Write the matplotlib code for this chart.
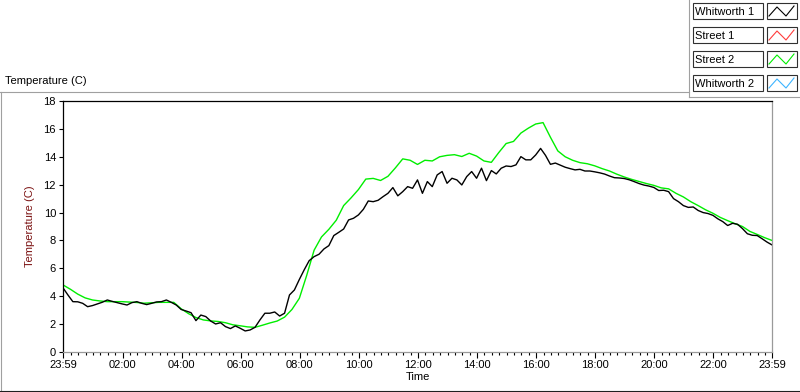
import numpy as np
import matplotlib
matplotlib.use('Agg')
import matplotlib.pyplot as plt
from matplotlib.patches import Rectangle
from matplotlib.ticker import FixedLocator

plt.rcParams['font.family'] = ['Liberation Sans', 'DejaVu Sans']
plt.rcParams['font.size'] = 8

# Whitworth 1 (black), 10 minute steps from 23:59
whitworth1 = [4.6, 4.09, 3.61, 3.6, 3.49, 3.25, 3.33, 3.45, 3.57, 3.73, 3.63, 3.54, 3.45,
              3.37, 3.54, 3.61, 3.49, 3.4, 3.49, 3.59, 3.61, 3.73, 3.56, 3.37, 3.05,
              2.94, 2.82, 2.25, 2.65, 2.54, 2.22, 2.01, 2.1, 1.82, 1.68, 1.87, 1.7,
              1.51, 1.58, 1.77, 2.3, 2.78, 2.78, 2.87, 2.58, 2.78, 4.09, 4.45, 5.2,
              5.9, 6.55, 6.84, 7.01, 7.39, 7.63, 8.35, 8.58, 8.82, 9.47, 9.59, 9.83,
              10.23, 10.83, 10.78, 10.88, 11.14, 11.38, 11.79, 11.2, 11.5, 11.86, 11.74, 12.34,
              11.38, 12.22, 11.86, 12.7, 12.94, 12.1, 12.46, 12.34, 11.98, 12.58, 12.94, 12.46,
              13.18, 12.29, 13.01, 12.77, 13.18, 13.34, 13.3, 13.42, 14.01, 13.78, 13.78, 14.13,
              14.6, 14.1, 13.46, 13.55, 13.4, 13.25, 13.15, 13.06, 13.1, 12.98, 12.98, 12.92,
              12.85, 12.76, 12.62, 12.5, 12.48, 12.44, 12.35, 12.22, 12.08, 11.97, 11.9, 11.8,
              11.58, 11.6, 11.5, 11.0, 10.78, 10.5, 10.37, 10.4, 10.15, 10.0, 9.93, 9.8,
              9.55, 9.35, 9.07, 9.23, 9.16, 8.85, 8.48, 8.37, 8.35, 8.12, 7.88, 7.68]

# Street 2 (green), 15 minute steps from 23:59
street2 = [4.81, 4.5, 4.15, 3.88, 3.73, 3.66, 3.61, 3.61, 3.61, 3.58, 3.55, 3.5, 3.53,
           3.56, 3.56, 3.56, 3.1,
           2.75, 2.47, 2.3, 2.23, 2.19, 2.1, 1.95, 1.88, 1.8, 1.77, 1.92, 2.08, 2.22, 2.5,
           3.05, 3.85,
           5.5, 7.3, 8.25, 8.8, 9.45, 10.5, 11.05, 11.65, 12.4, 12.45, 12.3, 12.6, 13.2,
           13.85, 13.75, 13.45,
           13.75, 13.7, 14.0, 14.1, 14.15, 14.02, 14.25, 14.05, 13.7, 13.6, 14.3, 14.95,
           15.1, 15.7, 16.05, 16.35,
           16.45, 15.4, 14.42, 14.0, 13.75, 13.58, 13.5, 13.35, 13.15, 12.98, 12.75, 12.55,
           12.38, 12.23, 12.08, 11.95,
           11.77, 11.7, 11.38, 11.12, 10.78, 10.5, 10.2, 9.95, 9.65, 9.42, 9.2, 9.0,
           8.65, 8.43, 8.2, 8.0]

start = -1 / 60  # 23:59 the day before, hours from midnight
t_w1 = start + np.arange(len(whitworth1)) / 6
t_s2 = start + np.arange(len(street2)) / 4

tick_pos = [start] + list(range(2, 24, 2)) + [24 + start]
tick_labels = ['23:59', '02:00', '04:00', '06:00', '08:00', '10:00', '12:00',
               '14:00', '16:00', '18:00', '20:00', '22:00', '23:59']

legend_names = ['Whitworth 1', 'Street 1', 'Street 2', 'Whitworth 2']
legend_colors = ['black', '#ff3c3c', '#00ee00', '#3cb4ff']

fig = plt.figure(figsize=(8, 3.92), dpi=100)
W, H = 800, 392

# frame / legend drawing layer in pixel coordinates
bg = fig.add_axes([0, 0, 1, 1])
bg.set_xlim(0, W)
bg.set_ylim(H, 0)
bg.axis('off')
bg.plot([0, 689], [91.5, 91.5], color='#a0a0a0', lw=0.8)
bg.plot([1, 1], [91.5, 390], color='#a0a0a0', lw=0.8)
bg.plot([0, W], [390.5, 390.5], color='#202020', lw=0.8)
bg.plot([689, 689], [0, 97], color='#a0a0a0', lw=0.8)
bg.plot([689, W], [97, 97], color='#a0a0a0', lw=0.8)
bg.text(5, 81, 'Temperature (C)', va='center', ha='left', fontsize=8)

for i, (name, col) in enumerate(zip(legend_names, legend_colors)):
    y0 = 3 + i * 24
    bg.add_patch(Rectangle((692.5, y0), 70, 16, fc='white', ec='#303030', lw=0.8))
    bg.text(695, y0 + 8.5, name, va='center', ha='left', fontsize=8)
    bg.add_patch(Rectangle((766.5, y0), 30, 16, fc='white', ec='#303030', lw=0.8))
    bg.plot([769, 777, 786, 794], [y0 + 13, y0 + 4, y0 + 13, y0 + 3], color=col, lw=0.8)

ax = fig.add_axes([63 / W, 1 - 352 / H, (772 - 63) / W, (352 - 101) / H])
ax.plot(t_s2, street2, color='#00ee00', lw=1.0)
ax.plot(t_w1, whitworth1, color='black', lw=1.0)

ax.set_xlim(start, 24 + start)
ax.set_ylim(0, 18)
ax.set_yticks(range(0, 19, 2))
ax.set_xticks(tick_pos)
ax.set_xticklabels(tick_labels)
minor = [m for m in np.arange(0.25, 24, 0.25) if m % 2 != 0]
ax.xaxis.set_minor_locator(FixedLocator(minor))
ax.tick_params(axis='x', which='major', length=4, width=0.8, pad=2)
ax.tick_params(axis='x', which='minor', length=2.5, width=0.8)
ax.tick_params(axis='y', length=3, width=0.8, pad=2)

for s in ['top', 'left']:
    ax.spines[s].set_color('black')
for s in ['right', 'bottom']:
    ax.spines[s].set_color('#9a9a9a')
for s in ax.spines.values():
    s.set_linewidth(0.9)

ax.set_xlabel('Time', labelpad=1)
ax.set_ylabel('Temperature (C)', color='#7a1010', labelpad=6)

fig.savefig('out.png', dpi=100)
